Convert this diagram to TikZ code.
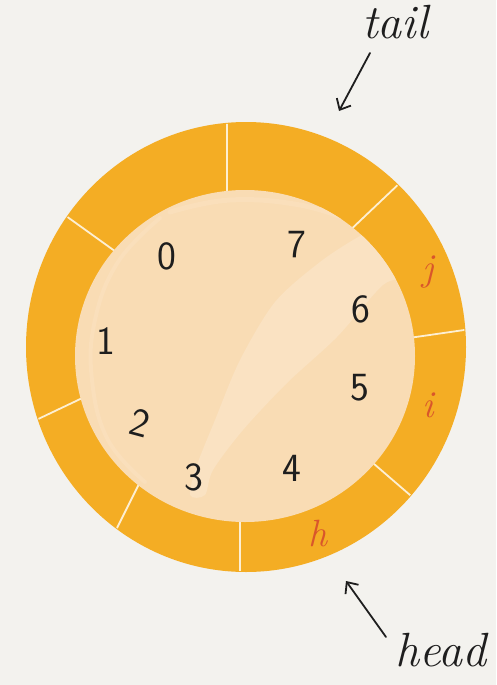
\documentclass[tikz,border=0pt]{standalone}
\usetikzlibrary{arrows.meta}
\definecolor{bg}{HTML}{F3F2EE}
\definecolor{ring}{HTML}{F4AD24}
\definecolor{inner}{HTML}{F9DCB4}
\definecolor{innerlight}{HTML}{FAE2C2}
\definecolor{rim}{HTML}{FADFBB}
\definecolor{redtxt}{HTML}{D9562B}
\definecolor{ink}{HTML}{1E1E1E}
\tikzset{
  digit/.style={font=\sffamily\fontsize{40}{40}\selectfont, text=ink, inner sep=0pt},
  ptr/.style={font=\itshape\fontsize{48}{48}\selectfont, text=ink, inner sep=0pt},
  slotlbl/.style={font=\itshape\fontsize{38}{38}\selectfont, text=redtxt, inner sep=0pt},
  divider/.style={draw=white!80!ring, line width=1.8pt},
  pointer/.style={draw=ink, line width=1.8pt, line cap=round, -{Straight Barb[length=9pt,width=16pt,line width=1.8pt]}}
}
\begin{document}
\begin{tikzpicture}[x=1pt,y=-1pt]
\fill[bg] (0,0) rectangle (496,685);
\useasboundingbox (0,0) rectangle (496,685);
% outer ring
\coordinate (oc) at (246,347);
\fill[ring] (oc) ellipse [x radius=220, y radius=225];
% dividers, clipped to the ring
\begin{scope}
\clip (oc) ellipse [x radius=219, y radius=224];
\coordinate (d1a) at (227,100); \coordinate (d1b) at (227,210);
\coordinate (d2a) at (423,161); \coordinate (d2b) at (343,237);
\coordinate (d3a) at (485,327); \coordinate (d3b) at (395,340);
\coordinate (d4a) at (432,514); \coordinate (d4b) at (344,438);
\coordinate (d5a) at (240,595); \coordinate (d5b) at (240,500);
\coordinate (d6a) at (107,548); \coordinate (d6b) at (147,468);
\coordinate (d7a) at (13,431);  \coordinate (d7b) at (95,392);
\coordinate (d8a) at (48,203);  \coordinate (d8b) at (137,267);
\foreach \i in {1,...,8} {\draw[divider] (d\i a) -- (d\i b);}
\end{scope}
% inner disc
\coordinate (ic) at (245,356);
\fill[inner] (ic) ellipse [x radius=170, y radius=166];
\begin{scope}
\clip (ic) ellipse [x radius=170, y radius=166];
% faint rims
\draw[rim, line width=4pt, line cap=round] plot[smooth, tension=0.7] coordinates {
 (160,218) (118,262) (95,320) (92,380) (108,440) (145,482)};
\draw[rim, line width=5pt, line cap=round] plot[smooth, tension=0.7] coordinates {
 (170,212) (230,200) (300,205) (355,222)};
% lighter diagonal band
\fill[innerlight] plot[smooth cycle, tension=0.5] coordinates {
 (190,495) (197,465) (215,420) (240,360) (275,302) (320,262) (360,236)
 (392,222) (420,240) (410,275) (383,285) (337,337) (287,383) (243,430)
 (213,470) (205,495)};
\end{scope}
% indices
\node[digit] (n0) at (167,256) {0};
\node[digit] (n7) at (297,245) {7};
\node[digit] (n6) at (361,309) {6};
\node[digit] (n5) at (360,388) {5};
\node[digit] (n4) at (292,468) {4};
\node[digit] (n3) at (194,477) {3};
\node[digit,rotate=-15] (n2) at (140,423) {2};
\node[digit] (n1) at (106,341) {1};
% slot labels
\node[slotlbl] (lj) at (428,272) {j};
\node[slotlbl] (li) at (428,405) {i};
\node[slotlbl] (lh) at (318,533) {h};
% pointers
\node[ptr] (tail) at (395,22) {tail};
\node[ptr] (head) at (441,650) {head};
\coordinate (ts) at (370,53);
\coordinate (te) at (339,111);
\coordinate (hs) at (386,637);
\coordinate (he) at (346,581);
\draw[pointer] (ts) -- (te);
\draw[pointer] (hs) -- (he);
\end{tikzpicture}
\end{document}
